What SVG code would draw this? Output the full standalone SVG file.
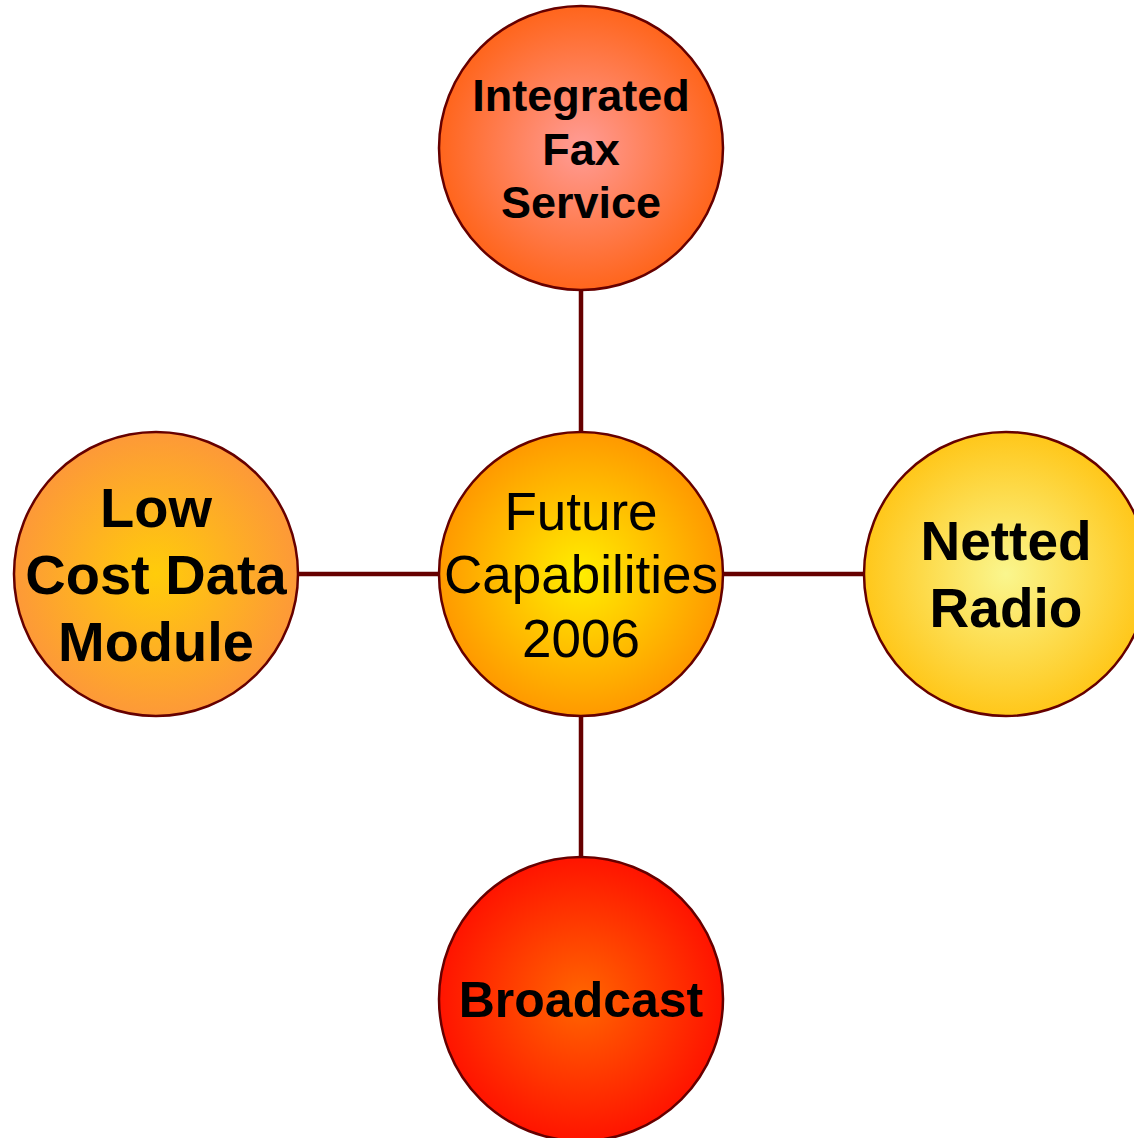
<svg xmlns="http://www.w3.org/2000/svg" width="1134" height="1138" viewBox="0 0 1134 1138">
<defs>
<radialGradient id="gTop" cx="50%" cy="50%" r="50%"><stop offset="0" stop-color="#FF9C96"/><stop offset="1" stop-color="#FF651C"/></radialGradient>
<radialGradient id="gCenter" cx="50%" cy="50%" r="50%"><stop offset="0" stop-color="#FFEE00"/><stop offset="1" stop-color="#FF9900"/></radialGradient>
<radialGradient id="gLeft" cx="50%" cy="50%" r="50%"><stop offset="0" stop-color="#FFCC0A"/><stop offset="1" stop-color="#FD9938"/></radialGradient>
<radialGradient id="gRight" cx="50%" cy="50%" r="50%"><stop offset="0" stop-color="#FAF68E"/><stop offset="1" stop-color="#FFC71A"/></radialGradient>
<radialGradient id="gBottom" cx="50%" cy="50%" r="50%"><stop offset="0" stop-color="#FF6600"/><stop offset="1" stop-color="#FF1400"/></radialGradient>
</defs>
<style>
.node circle{stroke:#660000;stroke-width:2.5}
.conn line{stroke:#660000;stroke-width:4.5}
text{font-family:"Liberation Sans",Arial,sans-serif;fill:#000;text-anchor:middle}
.b{font-weight:bold}
</style>
<rect width="1134" height="1138" fill="#fff"/>
<g class="conn" id="connectors">
<line x1="581" y1="290" x2="581" y2="432"/>
<line x1="581" y1="716" x2="581" y2="857"/>
<line x1="298" y1="574" x2="439" y2="574"/>
<line x1="723" y1="574" x2="864" y2="574"/>
</g>
<g class="node" id="node-top">
<circle cx="581" cy="148" r="142" fill="url(#gTop)"/>
<text class="b" font-size="45" x="581" y="111">Integrated</text>
<text class="b" font-size="45" x="581" y="165">Fax</text>
<text class="b" font-size="45" x="581" y="218">Service</text>
</g>
<g class="node" id="node-center">
<circle cx="581" cy="574" r="142" fill="url(#gCenter)"/>
<text font-size="53" x="581" y="530">Future</text>
<text font-size="53" x="581" y="593">Capabilities</text>
<text font-size="53" x="581" y="657">2006</text>
</g>
<g class="node" id="node-left">
<circle cx="156" cy="574" r="142" fill="url(#gLeft)"/>
<text class="b" font-size="56" x="156" y="527">Low</text>
<text class="b" font-size="56" x="156" y="594">Cost Data</text>
<text class="b" font-size="56" x="156" y="661">Module</text>
</g>
<g class="node" id="node-right">
<circle cx="1006" cy="574" r="142" fill="url(#gRight)"/>
<text class="b" font-size="55" x="1006" y="560">Netted</text>
<text class="b" font-size="55" x="1006" y="627">Radio</text>
</g>
<g class="node" id="node-bottom">
<circle cx="581" cy="999" r="142" fill="url(#gBottom)"/>
<text class="b" font-size="50" x="581" y="1017">Broadcast</text>
</g>
</svg>
